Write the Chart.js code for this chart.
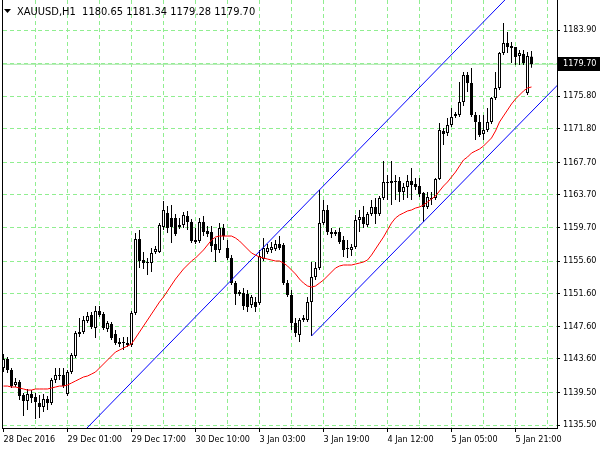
<!DOCTYPE html>
<html>
<head>
<meta charset="utf-8">
<title>XAUUSD H1</title>
<script src="https://cdn.jsdelivr.net/npm/chart.js@4.4.0/dist/chart.umd.min.js"></script>
<style>
  html, body { margin: 0; padding: 0; background: #fff; }
  canvas { display: block; }
</style>
</head>
<body>
<canvas id="xau-chart" width="600" height="450"></canvas>
<script>
// XAUUSD H1 candles, 28 Dec 2016 - 6 Jan 2017
const symbol = 'XAUUSD,H1';

const openPrices = [
  1142.49, 1143.59, 1142.24, 1140.41, 1140.77, 1139.18, 1138.45, 1139.30, 1138.94, 1138.20,
  1137.71, 1138.69, 1138.20, 1141.02, 1141.63, 1141.63, 1139.30, 1142.00, 1143.96, 1146.66,
  1146.90, 1148.25, 1148.98, 1147.39, 1149.47, 1149.11, 1147.27, 1147.88, 1146.66, 1145.67,
  1145.55, 1145.55, 1145.31, 1149.23, 1158.30, 1155.72, 1155.35, 1155.35, 1156.70, 1156.70,
  1159.77, 1161.48, 1160.87, 1160.87, 1159.77, 1160.01, 1161.11, 1160.38, 1157.93, 1158.05,
  1160.38, 1159.28, 1159.15, 1157.68, 1156.95, 1159.64, 1157.19, 1155.97, 1152.90, 1151.56,
  1151.68, 1151.56, 1150.21, 1150.58, 1150.45, 1155.84, 1156.70, 1156.95, 1157.07, 1157.68,
  1157.56, 1152.90, 1151.43, 1148.00, 1146.53, 1148.37, 1148.37, 1150.58, 1153.64, 1154.74,
  1160.25, 1161.85, 1159.15, 1158.91, 1159.15, 1158.17, 1157.07, 1156.95, 1157.32, 1160.62,
  1160.99, 1160.01, 1161.36, 1162.22, 1161.36, 1163.32, 1165.16, 1165.16, 1165.40, 1165.40,
  1164.05, 1164.67, 1165.40, 1165.03, 1164.79, 1163.93, 1162.22, 1163.20, 1163.32, 1165.65,
  1171.53, 1171.28, 1172.26, 1173.37, 1173.49, 1175.08, 1178.39, 1177.41, 1173.49, 1172.63,
  1171.16, 1171.65, 1172.63, 1175.57, 1176.80, 1181.09, 1182.31, 1181.94, 1181.82, 1180.72,
  1180.96, 1176.19, 1180.65
];
const highPrices = [
  1144.20, 1143.84, 1142.49, 1141.26, 1141.02, 1139.42, 1139.92, 1139.79, 1139.42, 1139.18,
  1139.30, 1139.06, 1141.26, 1142.49, 1142.49, 1142.49, 1142.24, 1144.33, 1147.02, 1148.62,
  1148.86, 1149.35, 1149.35, 1150.09, 1150.09, 1149.35, 1148.25, 1148.13, 1147.15, 1146.17,
  1146.29, 1146.29, 1149.47, 1159.03, 1159.40, 1156.70, 1155.97, 1157.19, 1157.44, 1160.25,
  1162.95, 1162.34, 1162.46, 1161.36, 1160.87, 1161.60, 1161.73, 1160.74, 1159.64, 1160.87,
  1161.11, 1159.89, 1159.89, 1158.42, 1160.25, 1160.13, 1158.17, 1156.33, 1153.15, 1152.05,
  1152.29, 1152.05, 1151.43, 1151.19, 1156.95, 1158.42, 1157.68, 1157.93, 1158.17, 1158.66,
  1157.81, 1153.27, 1152.05, 1148.62, 1148.62, 1148.98, 1151.19, 1155.48, 1155.48, 1164.30,
  1163.07, 1162.46, 1159.64, 1159.40, 1159.64, 1158.66, 1158.17, 1157.68, 1161.24, 1161.85,
  1162.34, 1161.60, 1163.07, 1163.32, 1163.56, 1167.85, 1166.14, 1167.85, 1166.14, 1165.89,
  1165.16, 1166.14, 1166.99, 1165.77, 1165.77, 1164.05, 1164.05, 1164.05, 1165.77, 1172.51,
  1171.90, 1173.12, 1174.35, 1173.86, 1177.53, 1178.76, 1178.76, 1179.25, 1173.86, 1173.49,
  1173.49, 1174.35, 1175.69, 1178.76, 1181.21, 1184.76, 1183.66, 1182.43, 1181.82, 1181.45,
  1181.45, 1181.21, 1181.34
];
const lowPrices = [
  1142.00, 1141.88, 1140.04, 1140.16, 1138.57, 1136.61, 1137.34, 1138.20, 1136.24, 1136.36,
  1137.10, 1137.34, 1137.96, 1140.65, 1141.02, 1140.04, 1139.06, 1141.75, 1143.71, 1146.29,
  1146.66, 1148.00, 1147.27, 1146.17, 1148.74, 1147.15, 1146.90, 1145.92, 1145.31, 1145.06,
  1144.69, 1145.06, 1145.06, 1148.98, 1154.74, 1154.62, 1153.88, 1154.25, 1156.46, 1156.58,
  1159.40, 1159.03, 1157.81, 1158.66, 1159.52, 1159.64, 1159.40, 1157.81, 1157.68, 1157.81,
  1158.66, 1158.54, 1156.70, 1155.48, 1156.58, 1158.17, 1155.72, 1152.66, 1150.21, 1151.31,
  1149.60, 1149.35, 1149.84, 1149.35, 1150.21, 1155.60, 1156.46, 1156.58, 1156.83, 1156.95,
  1152.66, 1151.19, 1147.15, 1146.29, 1145.67, 1148.13, 1148.13, 1146.41, 1153.27, 1154.50,
  1160.01, 1158.79, 1158.42, 1158.66, 1157.68, 1156.09, 1155.97, 1156.21, 1157.07, 1159.15,
  1159.64, 1159.77, 1161.11, 1160.13, 1161.11, 1163.07, 1163.07, 1162.46, 1163.07, 1162.83,
  1163.07, 1163.32, 1163.07, 1164.30, 1163.44, 1160.38, 1161.97, 1162.46, 1163.07, 1165.52,
  1169.81, 1170.92, 1172.02, 1173.12, 1173.24, 1174.59, 1176.31, 1173.24, 1170.42, 1170.79,
  1170.42, 1171.41, 1172.39, 1175.33, 1176.55, 1180.84, 1181.09, 1179.86, 1179.62, 1179.62,
  1179.62, 1175.94, 1179.28
];
const closePrices = [
  1143.59, 1142.24, 1140.28, 1140.77, 1139.06, 1138.45, 1139.30, 1138.81, 1138.32, 1137.71,
  1138.69, 1138.20, 1141.02, 1141.63, 1141.51, 1140.28, 1142.00, 1144.08, 1146.78, 1146.90,
  1148.37, 1148.86, 1147.51, 1149.47, 1148.98, 1147.39, 1148.00, 1146.17, 1145.55, 1145.43,
  1145.55, 1145.31, 1149.23, 1158.30, 1155.60, 1155.35, 1155.35, 1156.58, 1157.07, 1160.01,
  1161.85, 1159.64, 1159.77, 1158.91, 1160.01, 1161.24, 1160.38, 1158.05, 1158.17, 1160.38,
  1159.15, 1158.91, 1157.44, 1156.95, 1159.64, 1158.66, 1155.97, 1152.90, 1151.56, 1151.80,
  1150.09, 1149.96, 1151.19, 1149.96, 1156.21, 1157.19, 1157.19, 1157.32, 1157.68, 1157.19,
  1152.90, 1151.43, 1148.00, 1146.78, 1148.37, 1148.62, 1150.58, 1153.64, 1154.74, 1160.25,
  1161.85, 1159.15, 1158.91, 1159.15, 1157.93, 1156.95, 1157.19, 1157.32, 1160.62, 1160.99,
  1160.13, 1161.36, 1162.22, 1161.36, 1163.32, 1165.28, 1165.28, 1165.40, 1165.28, 1164.05,
  1164.67, 1165.40, 1164.91, 1164.67, 1163.81, 1162.22, 1163.44, 1163.32, 1165.65, 1171.65,
  1171.16, 1172.26, 1173.24, 1173.61, 1175.08, 1178.39, 1177.41, 1173.49, 1172.63, 1171.04,
  1171.65, 1172.63, 1175.57, 1176.80, 1181.09, 1182.31, 1181.82, 1181.70, 1180.60, 1181.09,
  1179.86, 1180.72, 1179.70
];

// red moving average
const maValues = [
  1140.28, 1140.28, 1140.16, 1140.16, 1140.04, 1139.92, 1139.79, 1139.79, 1139.92, 1139.92,
  1139.92, 1139.92, 1140.04, 1140.16, 1140.28, 1140.28, 1140.41, 1140.65, 1140.90, 1141.14,
  1141.39, 1141.51, 1141.75, 1142.00, 1142.49, 1142.98, 1143.47, 1143.96, 1144.45, 1144.69,
  1144.94, 1145.18, 1145.43, 1146.17, 1146.90, 1147.64, 1148.37, 1149.11, 1149.84, 1150.58,
  1151.19, 1151.92, 1152.66, 1153.39, 1154.01, 1154.62, 1155.11, 1155.60, 1155.97, 1156.46,
  1156.95, 1157.56, 1158.17, 1158.54, 1158.66, 1158.66, 1158.66, 1158.66, 1158.42, 1158.05,
  1157.56, 1157.07, 1156.58, 1156.33, 1156.09, 1155.97, 1155.84, 1155.72, 1155.60, 1155.60,
  1155.35, 1154.99, 1154.50, 1154.01, 1153.39, 1152.90, 1152.54, 1152.41, 1152.54, 1152.90,
  1153.27, 1153.76, 1154.25, 1154.74, 1154.99, 1155.11, 1155.11, 1155.11, 1155.23, 1155.35,
  1155.48, 1155.72, 1156.33, 1157.07, 1157.81, 1158.54, 1159.40, 1160.25, 1160.87, 1161.24,
  1161.48, 1161.73, 1161.85, 1162.09, 1162.22, 1162.46, 1162.83, 1163.20, 1163.56, 1164.18,
  1164.79, 1165.28, 1165.89, 1166.50, 1167.24, 1167.98, 1168.34, 1168.83, 1169.08, 1169.32,
  1169.69, 1170.18, 1170.67, 1171.53, 1172.63, 1173.37, 1174.10, 1174.84, 1175.45, 1175.94,
  1176.43, 1176.80, 1176.92
];

// blue equidistant channel (bar index, price)
const channelUpper = [{ x: 20, y: 1134.70 }, { x: 140, y: 1194.94 }];
const channelLower = [{ x: 77, y: 1146.41 }, { x: 140, y: 1177.90 }];

const xTickLabels = ['28 Dec 2016', '29 Dec 01:00', '29 Dec 17:00', '30 Dec 10:00', '3 Jan 03:00',
  '3 Jan 19:00', '4 Jan 12:00', '5 Jan 05:00', '5 Jan 21:00'];
const yTickValues = [1135.50, 1139.50, 1143.60, 1147.60, 1151.60, 1155.60, 1159.70, 1163.70,
  1167.70, 1171.80, 1175.80, 1179.80, 1183.90];
const hiddenYTick = 1179.80; // sits under the bid label

const GRID = '#90ee90';
const FONT = '"DejaVu Sans Condensed", "Liberation Sans", sans-serif';
const FONT_SIZE = 9;
const HEAD_SIZE = 11;

const last = closePrices.length - 1;
const bid = closePrices[last];
const xMin = -0.125, xMax = 138.375;
const yMin = 1135.14, yMax = 1187.58;

const wicks = highPrices.map((h, i) => ({ x: i, y: [lowPrices[i], h] }));
const bodies = openPrices.map((o, i) => ({ x: i, y: [o, closePrices[i]] }));
const bodyFill = openPrices.map((o, i) => closePrices[i] > o ? '#ffffff' : '#000000');
const maPoints = maValues.map((v, i) => ({ x: i, y: v }));

// frame bits MetaTrader draws: left edge, bid label, header line
const mtFrame = {
  id: 'mtFrame',
  afterDraw(chart) {
    const { ctx, chartArea: a, scales: { y } } = chart;
    ctx.save();
    ctx.fillStyle = '#000';
    ctx.fillRect(a.left - 1, a.top, 1, a.bottom - a.top + 1);

    const py = Math.round(y.getPixelForValue(bid));
    ctx.fillRect(a.right + 1, py - 7, chart.width - a.right - 1, 14);
    ctx.font = FONT_SIZE + 'px ' + FONT;
    ctx.textBaseline = 'middle';
    ctx.fillStyle = '#fff';
    ctx.fillText(bid.toFixed(2), a.right + 6, py);

    ctx.fillStyle = '#000';
    ctx.beginPath();
    ctx.moveTo(4, 9); ctx.lineTo(11, 9); ctx.lineTo(7.5, 13); ctx.closePath();
    ctx.fill();
    ctx.font = HEAD_SIZE + 'px ' + FONT;
    const head = symbol + '  ' + [openPrices[last], highPrices[last], lowPrices[last], closePrices[last]]
      .map(v => v.toFixed(2)).join(' ');
    ctx.fillText(head, 17, 12);
    ctx.restore();
  }
};

const ctx = document.getElementById('xau-chart').getContext('2d');
const chart = new Chart(ctx, {
  type: 'bar',
  data: {
    datasets: [
      { type: 'line', data: maPoints, borderColor: '#ff0000', borderWidth: 1, pointRadius: 0, tension: 0, order: -2 },
      { type: 'line', data: channelUpper, borderColor: '#0000ff', borderWidth: 1, pointRadius: 0, order: -1 },
      { type: 'line', data: channelLower, borderColor: '#0000ff', borderWidth: 1, pointRadius: 0, order: -1 },
      { type: 'line', data: [{ x: xMin, y: bid }, { x: xMax, y: bid }], borderColor: '#a8e8a8', borderWidth: 1, pointRadius: 0, order: 3 },
      { type: 'bar', data: wicks, backgroundColor: '#000', barThickness: 1, grouped: false, inflateAmount: 0, order: 1 },
      {
        type: 'bar', data: bodies, backgroundColor: bodyFill, borderColor: '#000', borderWidth: 1,
        borderSkipped: false, barThickness: 3, minBarLength: 1, grouped: false, inflateAmount: 0, order: 0
      }
    ]
  },
  options: {
    responsive: false,
    animation: false,
    events: [],
    layout: { padding: { left: 3, top: 0, right: 0, bottom: 0 } },
    plugins: { legend: { display: false }, tooltip: { enabled: false } },
    scales: {
      x: {
        type: 'linear', min: xMin, max: xMax, offset: false,
        grid: {
          offset: false, lineWidth: 1, drawTicks: true, tickLength: 4, tickWidth: 1,
          color: c => (c.tick && c.tick.value === 0) ? 'rgba(0,0,0,0)' : GRID,
          tickColor: c => (c.tick && c.tick.value % 16 === 0) ? '#000' : 'rgba(0,0,0,0)'
        },
        border: { display: true, color: '#000', width: 1, dash: [4, 3] },
        ticks: {
          autoSkip: false, maxRotation: 0, minRotation: 0, align: 'start', padding: 2, color: '#000',
          font: { family: FONT, size: FONT_SIZE },
          callback: v => v % 16 === 0 ? xTickLabels[v / 16] : ''
        },
        afterBuildTicks: s => {
          const t = [];
          for (let v = 0; v <= 136; v += 8) t.push({ value: v });
          s.ticks = t;
        },
        afterFit: s => { s.height = 22; s.paddingLeft = 0; s.paddingRight = 0; }
      },
      y: {
        position: 'right', min: yMin, max: yMax,
        grid: { color: GRID, lineWidth: 1, drawTicks: true, tickLength: 3, tickColor: '#000' },
        border: { display: true, color: '#000', width: 1, dash: [4, 3] },
        ticks: {
          autoSkip: false, padding: 3, color: '#000', font: { family: FONT, size: FONT_SIZE },
          callback: v => v === hiddenYTick ? '' : v.toFixed(2)
        },
        afterBuildTicks: s => { s.ticks = yTickValues.map(v => ({ value: v })); },
        afterFit: s => { s.width = 43; s.paddingTop = 0; s.paddingBottom = 0; }
      }
    }
  },
  plugins: [mtFrame]
});
</script>
</body>
</html>
